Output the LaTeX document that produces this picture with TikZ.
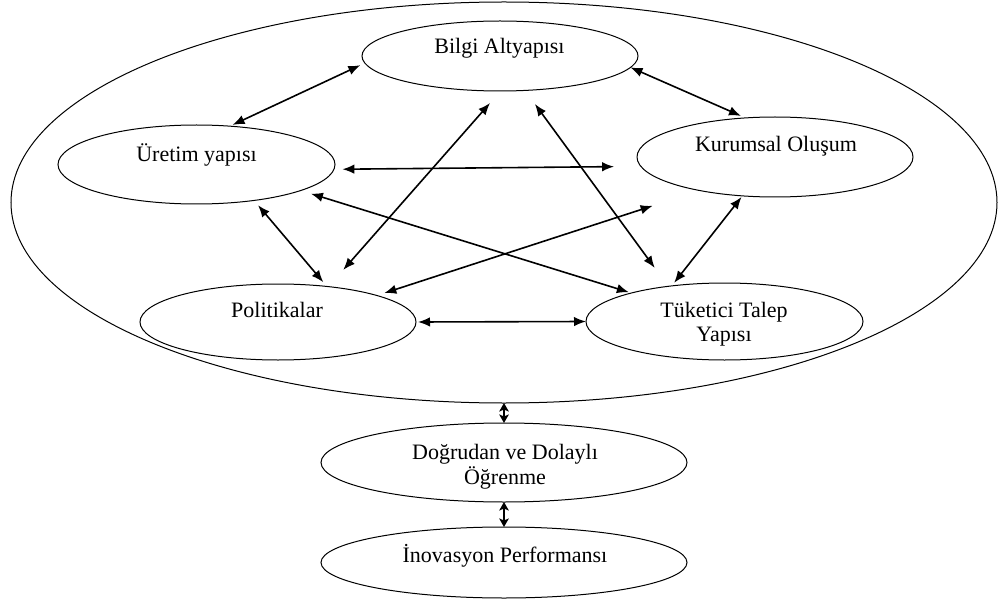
\documentclass[tikz,border=0pt]{standalone}
\usepackage{fontspec}
\setmainfont{Liberation Serif}
\usetikzlibrary{shapes.geometric,arrows.meta}
\begin{document}
\begin{tikzpicture}[x=1pt,y=-1pt,
  ell/.style={draw, ellipse, line width=1pt, inner sep=0pt, outer sep=0pt},
  lbl/.style={font=\fontsize{22}{24.5}\selectfont, inner sep=0pt, anchor=base},
  link/.style={line width=1.6pt, {Latex[length=12pt,width=9.5pt]}-{Latex[length=12pt,width=9.5pt]}},
  shortlink/.style={line width=1.6pt, {Stealth[length=8.5pt,width=9.5pt,inset=2pt]}-{Stealth[length=8.5pt,width=9.5pt,inset=2pt]}}]
\useasboundingbox (0,0) rectangle (998,604);

% outer system boundary and the five components
\node[ell, minimum width=986pt, minimum height=401pt] (O) at (504,202.5) {};
\node[ell, minimum width=276pt, minimum height=70pt] (B) at (500,56) {};
\node[ell, minimum width=277pt, minimum height=79pt] (U) at (196.5,164.5) {};
\node[ell, minimum width=276pt, minimum height=80pt] (K) at (775,157) {};
\node[ell, minimum width=276pt, minimum height=76pt] (P) at (278,322) {};
\node[ell, minimum width=277pt, minimum height=77pt] (T) at (724.5,321.5) {};
% learning and performance
\node[ell, minimum width=366pt, minimum height=79pt] (D) at (504,462.5) {};
\node[ell, minimum width=366pt, minimum height=71pt] (I) at (504,562.5) {};

% labels
\node[lbl] (tB) at (499.5,54) {Bilgi Altyapısı};
\node[lbl] (tU) at (196.5,162) {Üretim yapısı};
\node[lbl] (tK) at (776,152) {Kurumsal Oluşum};
\node[lbl] (tP) at (277,317) {Politikalar};
\node[lbl] (tT) at (724,317) {\begin{tabular}[t]{@{}c@{}}Tüketici Talep\\Yapısı\end{tabular}};
\node[lbl] (tD) at (505,459) {\begin{tabular}[t]{@{}c@{}}Doğrudan ve Dolaylı\\Öğrenme\end{tabular}};
\node[lbl] (tI) at (505,562) {İnovasyon Performansı};

% mutual interactions between the components
\draw[link, shorten <=5pt, shorten >=3pt] (B.183.9) -- (U.49.4);
\draw[link, shorten >=5pt] (B.355.05) -- (K.127.9);
\draw[link, shorten <=8.4pt, shorten >=26.8pt] (U.358.76) -- (K.184.5);
\draw[link, shorten <=6.2pt, shorten >=5.6pt] (U.328.6) -- (P.36.8);
\draw[link, shorten <=1.4pt, shorten >=3.9pt] (K.230.5) -- (T.146.6);
\draw[link, shorten <=2pt] (P.0) -- (T.180);
\draw[link, shorten <=16pt, shorten >=22.3pt] (B.271) -- (P.35.1);
\draw[link, shorten <=16.8pt, shorten >=22.8pt] (B.306.1) -- (T.148.5);
\draw[link, shorten <=10.6pt, shorten >=2.6pt] (U.346.2) -- (T.163.9);
\draw[link, shorten <=49.5pt, shorten >=7.8pt] (K.204.7) -- (P.15.7);

% system -> learning -> performance
\draw[shortlink] (O.south) -- (D.north);
\draw[shortlink] (D.south) -- (I.north);
\end{tikzpicture}
\end{document}
